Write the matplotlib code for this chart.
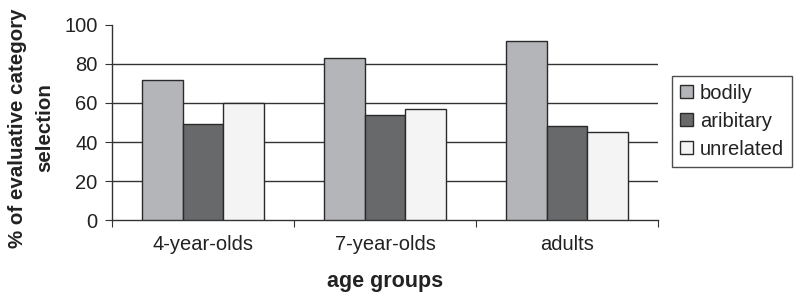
import matplotlib
matplotlib.use("Agg")
import matplotlib.pyplot as plt
import numpy as np

plt.rcParams['font.family'] = ['Liberation Sans', 'DejaVu Sans']

categories = ["4-year-olds", "7-year-olds", "adults"]
series_names = ["bodily", "aribitary", "unrelated"]
bodily = [72, 83, 92]
aribitary = [49, 54, 48]
unrelated = [60, 57, 45]
yticks = [0, 20, 40, 60, 80, 100]

colors = ["#b4b5b8", "#68696b", "#f4f4f4"]

fig = plt.figure(figsize=(8, 2.97), dpi=100)
ax = fig.add_axes([0.14, 0.259, 0.6825, 0.657])

x = np.arange(len(categories))
w = 0.222
for i, (vals, name) in enumerate(zip([bodily, aribitary, unrelated], series_names)):
    ax.bar(x + (i - 1) * w, vals, w, color=colors[i], edgecolor="#2a2a2a",
           linewidth=1.0, label=name, zorder=3)

ax.set_xlim(-0.5, 2.5)
ax.set_ylim(0, 100)
ax.set_yticks(yticks)
ax.set_yticklabels([str(v) for v in yticks], fontsize=14.5, color="#222222")
for v in yticks[1:-1]:
    ax.axhline(v, color="#333333", linewidth=1.0, zorder=1)

ax.set_xticks([-0.5, 0.5, 1.5, 2.5])
ax.set_xticklabels([])
ax.set_xticks(x, minor=True)
ax.set_xticklabels(categories, minor=True, fontsize=14.5, color="#222222")
ax.tick_params(axis='x', which='minor', length=0, pad=11)
ax.tick_params(axis='x', which='major', length=5, direction='out', color="#333333")
ax.tick_params(axis='y', length=5, direction='out', color="#333333", pad=5.5)

for s in ["top", "right"]:
    ax.spines[s].set_visible(False)
for s in ["left", "bottom"]:
    ax.spines[s].set_color("#333333")
    ax.spines[s].set_linewidth(1.0)

ax.set_xlabel("age groups", fontsize=15.5, fontweight='bold', labelpad=12, color="#222222")
fig.text(31 / 800, 1 - 128 / 297, "% of evaluative category\nselection", fontsize=14.8,
         fontweight='bold', rotation=90, ha='center', va='center', linespacing=1.55,
         color="#222222")

leg = ax.legend(loc='upper left', bbox_to_anchor=(0.84, 0.745), bbox_transform=fig.transFigure,
                borderaxespad=0, fontsize=14.5, frameon=True, fancybox=False, edgecolor="#222222",
                handlelength=0.63, handleheight=0.63, handletextpad=0.35, labelspacing=0.45,
                borderpad=0.4)
leg.get_frame().set_linewidth(1.0)
for t in leg.get_texts():
    t.set_color("#222222")

fig.savefig("out.png", dpi=100)
